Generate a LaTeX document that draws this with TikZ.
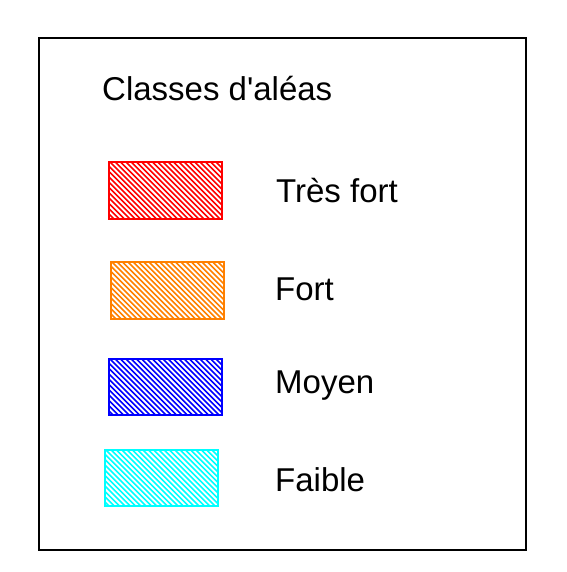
\documentclass[tikz,border=0pt]{standalone}
\usepackage{fontspec}
\setmainfont{Liberation Sans}
\usetikzlibrary{calc}
\definecolor{cred}{RGB}{255,0,0}
\definecolor{corange}{RGB}{255,128,0}
\definecolor{cblue}{RGB}{0,0,255}
\definecolor{ccyan}{RGB}{0,255,255}
\begin{document}
\begin{tikzpicture}[x=1pt,y=-1pt,
  hbox/.style={draw=#1, line width=1.5pt, minimum width=113pt, minimum height=57pt, inner sep=0pt,
    path picture={\foreach \k in {-12,...,23}
      \draw[#1, line width=1.6pt] ($(path picture bounding box.north west)+(\k*5.3pt,1pt)$) -- ++(70pt,-70pt);}},
  lbl/.style={anchor=base west, inner sep=0pt, font=\fontsize{33}{40}\selectfont}]
\useasboundingbox (0,0) rectangle (566,572);
\draw[line width=1.3pt] (39,38) rectangle (526,550);
\node[lbl] (title) at (102,101) {Classes d\textquotesingle aléas};
\node[hbox=cred] (b1) at (165.5,190.5) {};
\node[hbox=corange] (b2) at (167.5,290.5) {};
\node[hbox=cblue, minimum height=56pt] (b3) at (165.5,387) {};
\node[hbox=ccyan, minimum height=56pt] (b4) at (161.5,478) {};
\node[lbl] (l1) at (276,202) {Très fort};
\node[lbl] (l2) at (275,300) {Fort};
\node[lbl] (l3) at (275,393) {Moyen};
\node[lbl] (l4) at (275,491) {Faible};
\end{tikzpicture}
\end{document}
